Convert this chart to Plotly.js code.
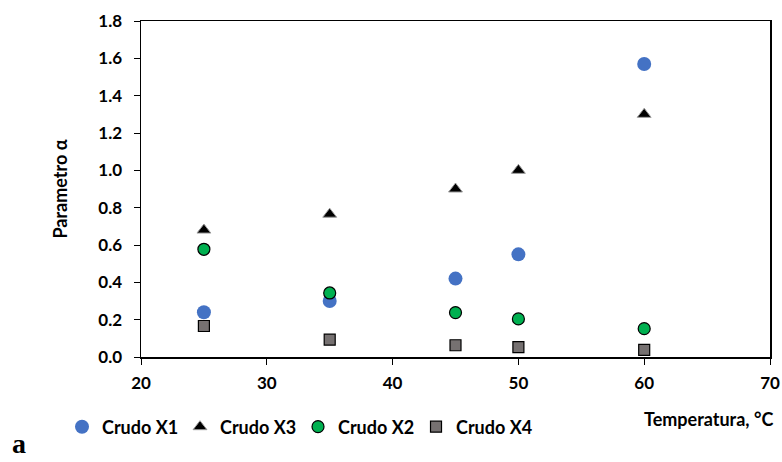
<!DOCTYPE html>
<html><head><meta charset="utf-8">
<script src="https://cdn.plot.ly/plotly-3.0.1.min.js"></script>
<style>html,body{margin:0;padding:0;background:#fff}#chart{width:782px;height:462px}</style>
</head><body><div id="chart"></div>
<script>
const temps = [25, 35, 45, 50, 60];
const crudoX1 = [0.24, 0.30, 0.42, 0.55, 1.57];
const crudoX3 = [0.68, 0.765, 0.90, 1.00, 1.30];
const crudoX2 = [0.577, 0.343, 0.238, 0.204, 0.152];
const crudoX4 = [0.166, 0.093, 0.063, 0.053, 0.038];
const seriesNames = ['Crudo X1', 'Crudo X3', 'Crudo X2', 'Crudo X4'];
const yTicks = [0, 0.2, 0.4, 0.6, 0.8, 1.0, 1.2, 1.4, 1.6, 1.8];
const xTicks = [20, 30, 40, 50, 60, 70];

const FONT = 'Lato, "Open Sans", sans-serif';
const traces = [
  {x: temps, y: crudoX1, name: seriesNames[0], type: 'scatter', mode: 'markers',
   marker: {symbol: 'circle', size: 14, color: '#4472C4', line: {width: 0}}},
  {x: temps, y: crudoX3, name: seriesNames[1], type: 'scatter', mode: 'markers',
   marker: {symbol: 'triangle-up', size: 12, color: '#000000', line: {width: 1, color: '#9a9a9a'}}},
  {x: temps, y: crudoX2, name: seriesNames[2], type: 'scatter', mode: 'markers',
   marker: {symbol: 'circle', size: 12, color: '#00B050', line: {width: 1.2, color: '#000000'}}},
  {x: temps, y: crudoX4, name: seriesNames[3], type: 'scatter', mode: 'markers',
   marker: {symbol: 'square', size: 11, color: '#767171', line: {width: 1.2, color: '#000000'}}}
];

const layout = {
  width: 782, height: 462,
  margin: {l: 141, r: 12, t: 21, b: 105},
  paper_bgcolor: '#ffffff', plot_bgcolor: '#ffffff',
  font: {family: FONT, size: 18, color: '#000000', weight: 'bold'},
  showlegend: true,
  legend: {orientation: 'h', xref: 'container', yref: 'container', x: 0.0793, y: 0.0758,
           xanchor: 'left', yanchor: 'middle', entrywidth: 73, entrywidthmode: 'pixels',
           font: {family: FONT, size: 18, color: '#000', weight: 'bold'}, itemwidth: 30,
           bgcolor: 'rgba(0,0,0,0)'},
  xaxis: {range: [20, 70], tickvals: xTicks, ticktext: xTicks.map(String),
          showgrid: false, zeroline: false, showline: true, mirror: true,
          linecolor: '#000', linewidth: 1.5, ticks: 'outside', ticklen: 6, tickcolor: '#000',
          tickwidth: 1, ticklabelstandoff: 4,
          tickfont: {family: FONT, size: 17, color: '#000', weight: 'bold'}},
  yaxis: {range: [0, 1.8], tickvals: yTicks, ticktext: yTicks.map(v => v.toFixed(1)),
          showgrid: false, zeroline: false, showline: true, mirror: true,
          linecolor: '#000', linewidth: 1.5, ticks: 'outside', ticklen: 6, tickcolor: '#000',
          tickwidth: 1, ticklabelstandoff: 8,
          title: {text: 'Parametro α', standoff: 26, font: {family: FONT, size: 18, color: '#000', weight: 'bold'}},
          tickfont: {family: FONT, size: 17, color: '#000', weight: 'bold'}},
  annotations: [
    {text: 'Temperatura, °C', xref: 'paper', yref: 'paper', x: 1.008, y: -0.1845,
     xanchor: 'right', yanchor: 'middle', showarrow: false,
     font: {family: FONT, size: 18, color: '#000', weight: 'bold'}},
    {text: 'a', xref: 'paper', yref: 'paper', x: -0.2083, y: -0.309,
     xanchor: 'left', yanchor: 'bottom', showarrow: false,
     font: {family: '"Liberation Serif", "DejaVu Serif", serif', size: 28, color: '#000', weight: 'bold'}}
  ]
};

Plotly.newPlot('chart', traces, layout, {staticPlot: true, displayModeBar: false});
</script></body></html>
